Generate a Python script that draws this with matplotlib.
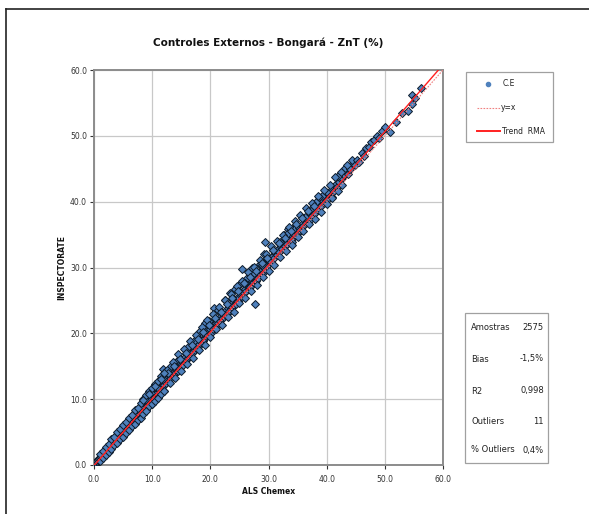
import matplotlib
matplotlib.use("Agg")
import matplotlib.pyplot as plt
from matplotlib.lines import Line2D
from matplotlib.patches import Rectangle

# ---------------- data ----------------
als = [
    # 0-5
    0.1,0.15,0.2,0.25,0.3,0.35,0.4,0.5,0.55,0.6,0.7,0.8,0.9,1.0,1.1,1.2,1.3,1.4,1.5,1.6,1.8,1.9,2.0,2.1,2.3,2.4,2.5,2.7,2.8,3.0,3.1,3.3,3.4,3.6,3.8,3.9,4.1,4.3,4.6,4.9,
    0.05,0.1,0.2,0.3,0.45,0.6,0.75,0.85,1.05,1.25,1.45,1.65,1.75,2.05,2.25,2.45,2.65,2.85,3.05,3.25,3.45,3.65,3.85,4.05,4.25,4.45,4.65,4.85,5.05,5.25,5.45,5.65,5.85,6.05,6.25,6.45,6.65,6.85,7.05,7.25,
    # 5-10
    5.0,5.1,5.3,5.4,5.5,5.7,5.8,6.0,6.1,6.2,6.4,6.5,6.6,6.8,6.9,7.0,7.2,7.3,7.4,7.6,7.7,7.8,8.0,8.1,8.2,8.4,8.5,8.6,8.8,8.9,9.0,9.1,9.3,9.4,9.5,9.6,9.8,9.9,10.0,10.1,
    7.45,7.65,7.85,8.05,8.25,8.45,8.65,8.85,9.05,9.25,9.45,9.65,9.85,10.05,10.25,10.45,10.65,10.85,11.05,11.25,11.45,11.65,11.85,12.05,12.25,12.45,12.65,12.85,13.05,13.25,
    # 10-15
    10.2,10.3,10.5,10.6,10.8,10.9,11.0,11.2,11.3,11.5,11.6,11.7,11.9,12.0,12.1,12.3,12.4,12.5,12.7,12.8,13.0,13.1,13.2,13.4,13.5,13.6,13.8,13.9,14.0,14.2,14.3,14.4,14.6,14.7,14.8,15.0,11.9,12.2,13.3,14.5,
    # 15-20
    15.1,15.3,15.4,15.6,15.7,15.9,16.0,16.1,16.3,16.4,16.6,16.7,16.8,17.0,17.1,17.3,17.4,17.5,17.7,17.8,18.0,18.1,18.2,18.4,18.5,18.7,18.8,18.9,19.1,19.2,19.4,19.5,19.6,19.8,19.9,16.2,17.2,18.3,19.0,19.7,
    # 20-25
    20.0,20.2,20.3,20.5,20.6,20.8,20.9,21.1,21.2,21.4,21.5,21.7,21.8,22.0,22.1,22.3,22.4,22.6,22.7,22.9,23.0,23.2,23.3,23.5,23.6,23.8,23.9,24.1,24.2,24.4,24.5,24.7,24.8,25.0,20.6,21.3,22.5,23.4,24.3,25.0,
    # 25-30
    25.2,25.4,25.6,25.8,26.0,26.2,26.4,26.6,26.8,27.0,27.2,27.4,27.6,27.8,28.0,28.2,28.4,28.6,28.8,29.0,29.2,29.4,29.6,29.8,30.0,25.4,26.3,27.1,27.7,28.5,29.3,26.9,25.9,27.5,28.9,29.7,
    # 30-35
    30.2,30.4,30.7,30.9,31.1,31.4,31.6,31.8,32.1,32.3,32.5,32.8,33.0,33.2,33.5,33.7,33.9,34.2,34.4,34.6,34.9,35.0,29.4,31.7,32.6,33.4,34.0,34.8,30.8,31.9,33.1,34.5,
    # 35-40
    35.3,35.5,35.8,36.0,36.3,36.5,36.8,37.0,37.3,37.5,37.8,38.0,38.3,38.5,38.8,39.0,39.3,39.5,39.8,40.0,36.2,37.2,38.2,39.2,36.9,38.7,
    # 40-45
    40.3,40.6,40.9,41.2,41.5,41.8,42.1,42.4,42.7,43.0,43.3,43.6,43.9,44.2,44.5,44.8,41.0,42.0,43.1,44.0,42.6,44.4,
    # 45-57
    45.2,45.6,46.0,46.4,46.8,47.3,47.6,48.1,48.6,49.0,49.5,50.0,50.9,52.0,53.0,54.0,54.6,54.6,55.2,56.3,
    # upper edge of the cloud
    8.5,9.5,10.5,11.5,12.5,13.5,14.5,15.5,16.5,17.5,18.5,19.5,20.5,21.5,22.5,23.5,24.5,25.5,26.5,27.5,28.5,29.5,30.5,31.5,32.5,33.5,34.5,35.5,36.5,37.5,38.5,39.5,40.5,41.5,42.5,43.5,
    # lower edge of the cloud
    9.0,10.0,11.0,12.0,13.0,14.0,15.0,16.0,17.0,18.0,19.0,20.0,21.0,22.0,23.0,24.0,25.0,26.0,27.0,28.0,29.0,30.0,31.0,32.0,33.0,34.0,35.0,36.0,37.0,38.0,39.0,40.0,41.0,42.0,
    # middle of the cloud
    8.8,9.8,10.8,11.8,12.8,13.8,14.8,15.8,16.8,17.8,18.8,19.8,20.8,21.8,22.8,23.8,24.8,25.8,26.8,27.8,28.8,29.8,30.8,31.8,32.8,33.8,34.8,35.8,36.8,37.8,
    # low-grade band, upper and lower sides
    1.0,1.5,2.0,2.5,3.0,3.5,4.0,4.5,5.0,5.5,6.0,6.5,7.0,7.5,8.0,8.5,9.0,9.5,10.0,10.5,11.0,11.5,12.0,
    1.0,1.5,2.0,2.5,3.0,3.5,4.0,4.5,5.0,5.5,6.0,6.5,7.0,7.5,8.0,8.5,9.0,9.5,10.0,10.5,11.0,11.5,12.0,
]
inspectorate = [
    0.1,0.2,0.3,0.2,0.4,0.3,0.5,0.6,0.5,0.7,0.8,0.9,0.8,1.1,1.0,1.3,1.4,1.3,1.6,1.8,1.8,2.1,2.0,2.3,2.2,2.6,2.5,2.9,2.7,3.2,3.0,3.5,3.3,3.8,3.7,4.1,4.2,4.5,4.6,5.2,
    0.0,0.05,0.15,0.35,0.4,0.6,0.7,0.95,1.0,1.2,1.55,1.6,1.9,2.0,2.35,2.4,2.8,2.85,3.0,3.4,3.5,3.8,4.0,4.25,4.3,4.7,4.75,5.0,5.3,5.4,5.7,5.8,6.1,6.2,6.5,6.7,6.8,7.1,7.3,7.5,
    5.2,5.0,5.6,5.3,5.9,5.8,6.1,6.3,5.9,6.6,6.5,6.9,6.7,7.1,7.3,7.0,7.6,7.2,7.8,7.7,8.2,7.9,8.3,8.6,8.1,8.8,8.5,9.0,9.1,8.7,9.4,9.5,9.2,9.9,9.6,10.0,10.2,9.9,10.5,10.1,
    7.5,7.9,8.0,8.4,8.4,8.8,8.8,9.2,9.2,9.6,9.7,10.0,10.0,10.4,10.5,10.8,11.0,11.1,11.4,11.4,11.9,11.9,12.2,12.4,12.5,12.9,12.9,13.3,13.4,13.6,
    10.6,10.3,11.0,10.8,11.4,11.0,11.5,11.8,11.2,12.0,11.7,12.3,12.1,12.6,12.2,12.9,12.5,13.1,12.8,13.4,13.5,13.0,13.8,13.6,14.1,13.7,14.4,14.0,14.6,14.5,14.9,14.3,15.2,14.8,15.4,15.3,14.6,14.1,15.0,16.0,
    15.6,15.2,16.1,15.8,16.4,16.0,16.8,16.3,17.1,16.6,17.3,16.9,17.7,17.2,17.9,17.4,18.2,17.8,18.6,18.0,18.8,18.4,19.3,18.7,19.5,18.9,19.8,19.2,20.1,19.6,20.4,19.8,20.6,20.2,20.9,17.9,18.9,20.3,21.5,21.9,
    20.6,20.1,21.0,20.7,21.4,20.9,21.5,21.1,22.0,21.6,22.2,21.8,22.6,22.3,22.9,22.5,23.1,22.8,23.5,23.0,23.8,23.4,24.1,23.7,24.3,24.0,24.7,24.3,25.0,24.5,25.2,24.9,25.5,25.3,23.9,23.6,25.0,26.2,26.8,27.4,
    25.9,25.5,26.4,26.1,26.8,26.5,27.2,26.8,27.7,27.3,28.0,27.6,28.5,28.0,28.8,28.4,29.3,29.0,29.6,29.2,30.1,29.8,30.5,30.2,30.9,29.7,28.4,30.0,24.4,30.6,32.0,27.0,27.6,29.1,30.4,31.3,
    31.2,30.9,31.8,31.4,32.2,31.9,32.8,32.3,33.1,32.8,33.6,33.2,34.0,33.6,34.4,34.2,34.9,34.5,35.3,35.0,35.6,35.2,33.8,33.8,34.9,35.8,33.9,36.5,32.6,33.9,35.1,36.0,
    36.0,35.7,36.6,36.3,37.2,36.8,37.7,37.3,38.2,37.8,38.7,38.3,39.1,38.8,39.6,39.3,40.1,39.8,40.6,40.3,37.6,38.8,40.0,40.9,37.0,40.7,
    41.3,40.9,42.0,41.6,42.6,42.3,43.0,43.4,43.6,44.1,44.6,44.2,45.0,45.4,45.9,45.5,40.7,43.9,45.1,44.9,42.5,46.4,
    46.4,46.0,47.4,46.9,48.1,48.3,49.0,49.4,50.0,49.6,50.8,51.4,50.6,52.1,53.5,53.7,54.9,56.2,55.8,57.2,
    10.0,11.2,12.3,13.5,14.4,15.6,16.8,17.6,18.9,19.8,20.9,22.1,22.9,24.0,25.1,26.0,27.2,28.0,29.3,30.1,31.2,32.0,33.3,34.1,35.0,36.2,37.0,37.9,39.0,39.8,40.9,41.7,42.6,43.8,44.5,45.6,
    8.4,9.3,10.4,11.3,12.4,13.2,14.3,15.4,16.3,17.5,18.3,19.4,20.6,21.3,22.5,23.3,24.6,25.4,26.5,27.4,28.6,29.5,30.4,31.6,32.5,33.4,34.6,35.5,36.6,37.4,38.5,39.6,40.5,41.6,
    9.8,10.9,11.8,13.1,13.9,15.0,16.1,17.0,18.3,19.1,20.2,21.3,22.3,23.2,24.5,25.3,26.4,27.6,28.5,29.4,30.7,31.5,32.6,33.7,34.5,35.5,36.6,37.5,38.6,39.4,
    1.6,2.2,2.8,3.2,3.9,4.3,5.0,5.4,6.1,6.5,7.2,7.6,8.3,8.6,9.4,9.8,10.6,10.8,11.7,12.0,12.8,13.1,13.9,
    0.6,1.0,1.5,2.0,2.4,3.0,3.4,4.0,4.3,4.9,5.3,5.9,6.3,6.9,7.2,7.8,8.2,8.9,9.2,9.7,10.2,10.8,11.2,
]

ref_line_x = [0, 60]            # y = x
trend_slope = 1.015
trend_intercept = -0.1

ticks = [0, 10, 20, 30, 40, 50, 60]
tick_labels = ["0.0", "10.0", "20.0", "30.0", "40.0", "50.0", "60.0"]

stats_labels = ["Amostras", "Bias", "R2", "Outliers", "% Outliers"]
stats_values = ["2575", "-1,5%", "0,998", "11", "0,4%"]

# ---------------- figure ----------------
W, H = 589, 514
fig = plt.figure(figsize=(W / 100, H / 100), dpi=100)
fig.patch.set_facecolor("white")

def fx(px):
    return px / W

def fy(py):
    return 1 - py / H

ax = fig.add_axes([fx(94), fy(465), fx(443) - fx(94), fy(70) - fy(465)])
ax.set_xlim(0, 60)
ax.set_ylim(0, 60)

ax.grid(True, color="#c8c8c8", linewidth=0.9)
ax.set_axisbelow(True)

ax.plot(als, inspectorate, linestyle="none", marker="D", markersize=3.7,
        markerfacecolor="#4f81bd", markeredgecolor="#0d1b2a", markeredgewidth=0.7,
        zorder=3)

ax.plot(ref_line_x, ref_line_x, color="#f08080", linestyle=(0, (1.5, 1.2)), linewidth=0.8, zorder=4)
tx = [0, 62]
ax.plot(tx, [trend_slope * v + trend_intercept for v in tx], color="#ff2020", linewidth=1.0, zorder=4)

ax.set_xticks(ticks)
ax.set_xticklabels(tick_labels)
ax.set_yticks(ticks)
ax.set_yticklabels(tick_labels)
ax.tick_params(axis="both", labelsize=5.5, colors="#333333", length=3, width=0.8,
               direction="out", pad=2)
ax.tick_params(axis="x", pad=4)
for s in ax.spines.values():
    s.set_color("#8c8c8c")
    s.set_linewidth(1.4)

fig.text(fx(268.5), fy(43), "Controles Externos - Bongará - ZnT (%)", ha="center", va="center",
         fontsize=7.5, fontweight="bold", color="#111111")
fig.text(fx(268.5), fy(492), "ALS Chemex", ha="center", va="center",
         fontsize=5.5, fontweight="bold", color="#111111")
fig.text(fx(62), fy(268), "INSPECTORATE", ha="center", va="center", rotation=90,
         fontsize=5.5, fontweight="bold", color="#111111")

# legend box
fig.patches.append(Rectangle((fx(466), fy(142)), fx(553) - fx(466), fy(72) - fy(142),
                             transform=fig.transFigure, facecolor="white",
                             edgecolor="#a0a0a0", linewidth=0.9))
fig.lines.append(Line2D([fx(488)], [fy(84)], transform=fig.transFigure, marker="o",
                        markersize=3, markerfacecolor="#4f81bd", markeredgecolor="#4f81bd",
                        linestyle="none"))
fig.text(fx(503), fy(84), "C.E", fontsize=5.5, va="center", ha="left", color="#222222")
fig.lines.append(Line2D([fx(477), fx(500)], [fy(108), fy(108)], transform=fig.transFigure,
                        color="#f08080", linestyle=(0, (1.5, 1.2)), linewidth=0.8))
fig.text(fx(501), fy(108), "y=x", fontsize=5.5, va="center", ha="left", color="#222222")
fig.lines.append(Line2D([fx(477), fx(500)], [fy(131), fy(131)], transform=fig.transFigure,
                        color="#ff2020", linewidth=1.4))
fig.text(fx(502), fy(131), "Trend  RMA", fontsize=5.5, va="center", ha="left", color="#222222")

# stats box
fig.patches.append(Rectangle((fx(465), fy(463)), fx(548) - fx(465), fy(313) - fy(463),
                             transform=fig.transFigure, facecolor="white",
                             edgecolor="#a0a0a0", linewidth=0.9))
row_y = [327, 359, 391, 421, 450]
for lab, val, ry in zip(stats_labels, stats_values, row_y):
    fig.text(fx(471), fy(ry), lab, fontsize=6, va="center", ha="left", color="#222222")
    fig.text(fx(544), fy(ry), val, fontsize=6, va="center", ha="right", color="#222222")

# outer frame (left / top)
fig.lines.append(Line2D([fx(6), fx(6)], [fy(9), fy(514)], transform=fig.transFigure,
                        color="#222222", linewidth=1.2))
fig.lines.append(Line2D([fx(6), fx(589)], [fy(9), fy(9)], transform=fig.transFigure,
                        color="#222222", linewidth=1.2))

fig.savefig("out.png", dpi=100, facecolor="white")
